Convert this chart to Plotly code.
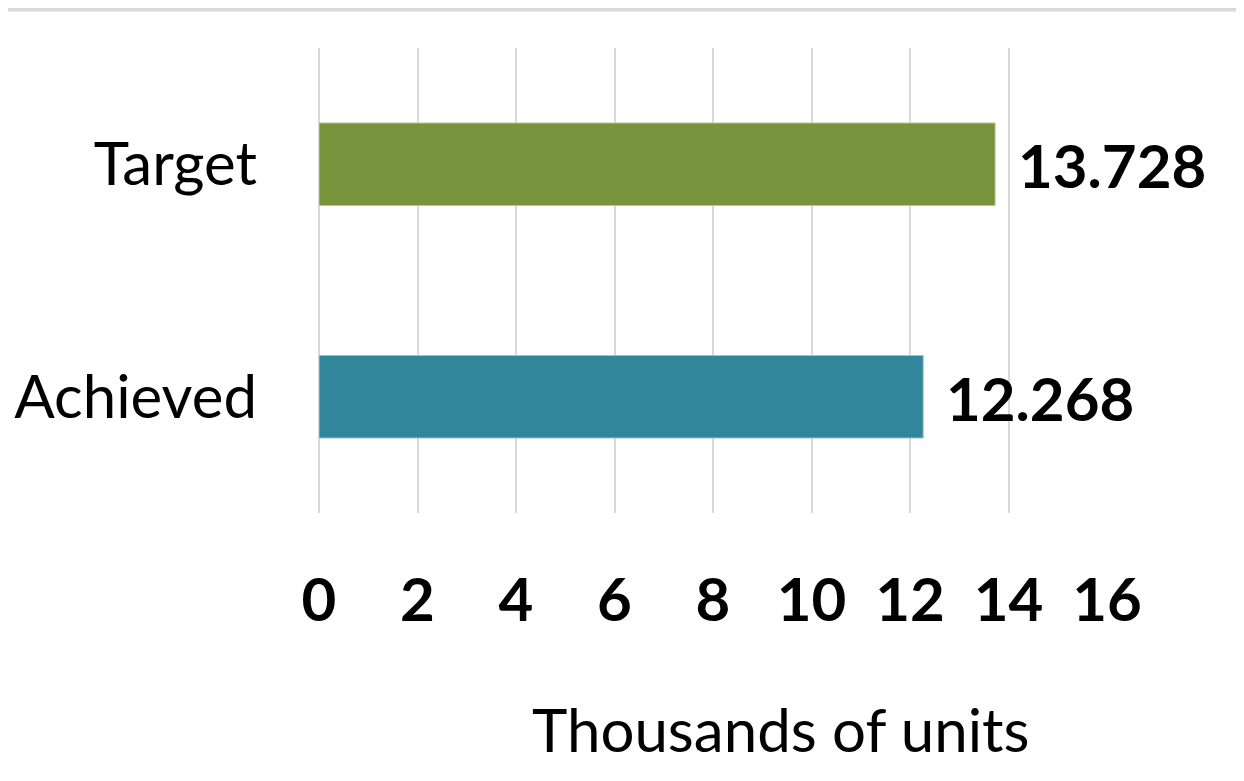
import plotly.graph_objects as go

categories = ["Achieved", "Target"]
values = [12.268, 13.728]
labels = ["12.268", "13.728"]
colors = ["#31869B", "#77933C"]
edge_colors = ["#9cc4ce", "#b9cb98"]
tick_vals = [0, 2, 4, 6, 8, 10, 12, 14, 16]

FONT = "Lato"

fig = go.Figure(go.Bar(
    x=values, y=categories, orientation="h",
    marker=dict(color=colors, line=dict(color=edge_colors, width=1)),
    width=0.355,
))

# value labels to the right of each bar
for c, v, t in zip(categories, values, labels):
    fig.add_annotation(x=v, y=c, text="<b>%s</b>" % t, showarrow=False,
                       xanchor="left", xshift=21, yshift=-1,
                       font=dict(family=FONT, size=60, color="black"))

fig.add_annotation(text="Thousands of units", xref="paper", yref="paper",
                   x=0.586, y=-0.464, xanchor="center", yanchor="middle",
                   showarrow=False,
                   font=dict(family=FONT, size=60, color="black"))

# light rule along the very top of the image
fig.add_shape(type="line", xref="paper", yref="paper", x0=-1, x1=2,
              y0=1.083, y1=1.083, line=dict(color="#d9d9d9", width=4))

fig.update_layout(
    width=1236, height=773,
    margin=dict(l=311, r=137, t=40, b=268),
    plot_bgcolor="white", paper_bgcolor="white",
    showlegend=False,
    bargap=0.645,
)
fig.update_xaxes(range=[0, 16], tickvals=tick_vals,
                 ticktext=["<b>%d</b>" % t for t in tick_vals],
                 showgrid=True, gridcolor="#d9d9d9", gridwidth=2,
                 zeroline=True, zerolinecolor="#d9d9d9", zerolinewidth=2,
                 ticks="outside", ticklen=35, tickcolor="rgba(0,0,0,0)",
                 tickfont=dict(family=FONT, size=60, color="black"),
                 automargin=False, fixedrange=True)
fig.update_yaxes(showgrid=False, ticks="outside", ticklen=49,
                 tickcolor="rgba(0,0,0,0)",
                 tickfont=dict(family=FONT, size=60, color="black"),
                 automargin=False)

fig.write_html("out.html")
